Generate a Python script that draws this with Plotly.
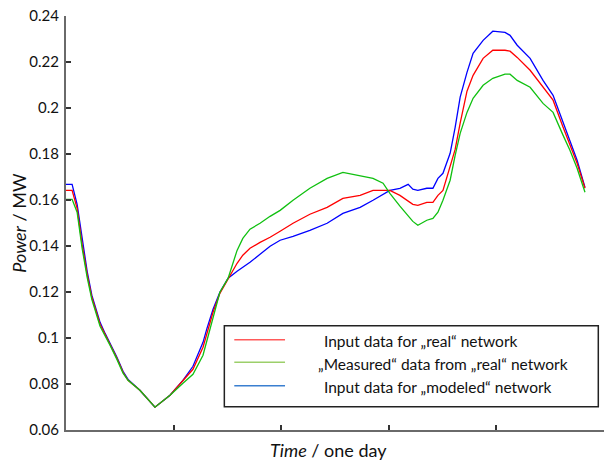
import plotly.graph_objects as go

# Time of day in minutes
time_min = [0, 17, 31, 45, 59, 72, 95, 109, 123, 142, 159, 173, 206, 248, 290, 326, 354, 382,
            393, 410, 429, 452, 477, 493, 513, 541, 569, 597, 633, 680, 728, 772, 820, 856,
            884, 903, 931, 954, 967, 981, 1006, 1023, 1037, 1051, 1071, 1085, 1099, 1118,
            1135, 1163, 1190, 1224, 1238, 1258, 1294, 1330, 1358, 1386, 1405, 1425, 1447]

real_input = [0.1642, 0.1642, 0.1564, 0.1407, 0.1277, 0.1177, 0.1060, 0.1016, 0.0973, 0.0912,
              0.0851, 0.0816, 0.0773, 0.0699, 0.0751, 0.0812, 0.0864, 0.0960, 0.1020, 0.1112,
              0.1194, 0.1260, 0.1325, 0.1360, 0.1390, 0.1416, 0.1438, 0.1464, 0.1499, 0.1538,
              0.1568, 0.1607, 0.1620, 0.1642, 0.1642, 0.1642, 0.1620, 0.1594, 0.1581, 0.1577,
              0.1590, 0.1590, 0.1620, 0.1642, 0.1742, 0.1820, 0.1934, 0.2073, 0.2142, 0.2216,
              0.2251, 0.2251, 0.2247, 0.2220, 0.2164, 0.2090, 0.2034, 0.1916, 0.1838, 0.1760,
              0.1651]

measured = [0.1603, 0.1603, 0.1547, 0.1390, 0.1264, 0.1168, 0.1051, 0.1012, 0.0968, 0.0907,
            0.0847, 0.0816, 0.0773, 0.0699, 0.0751, 0.0803, 0.0842, 0.0925, 0.0990, 0.1094,
            0.1199, 0.1260, 0.1381, 0.1433, 0.1473, 0.1499, 0.1529, 0.1555, 0.1599, 0.1651,
            0.1694, 0.1720, 0.1707, 0.1694, 0.1673, 0.1629, 0.1573, 0.1529, 0.1507, 0.1490,
            0.1512, 0.1520, 0.1547, 0.1599, 0.1686, 0.1794, 0.1890, 0.1981, 0.2042, 0.2099,
            0.2129, 0.2147, 0.2147, 0.2120, 0.2090, 0.2020, 0.1981, 0.1881, 0.1816, 0.1738,
            0.1634]

modeled_input = [0.1668, 0.1668, 0.1581, 0.1425, 0.1290, 0.1186, 0.1068, 0.1020, 0.0977, 0.0916,
                 0.0855, 0.0820, 0.0773, 0.0699, 0.0751, 0.0816, 0.0877, 0.0981, 0.1042, 0.1125,
                 0.1199, 0.1260, 0.1290, 0.1307, 0.1329, 0.1364, 0.1399, 0.1425, 0.1442, 0.1468,
                 0.1499, 0.1542, 0.1568, 0.1599, 0.1625, 0.1642, 0.1651, 0.1668, 0.1647, 0.1642,
                 0.1651, 0.1651, 0.1694, 0.1716, 0.1803, 0.1916, 0.2047, 0.2155, 0.2238, 0.2294,
                 0.2334, 0.2329, 0.2316, 0.2273, 0.2216, 0.2120, 0.2055, 0.1934, 0.1860, 0.1773,
                 0.1655]

x_ticks = [0, 300, 600, 900, 1200, 1500]
y_ticks = [0.06, 0.08, 0.10, 0.12, 0.14, 0.16, 0.18, 0.20, 0.22, 0.24]

series_names = ["Input data for „real“ network",
                "„Measured“ data from „real“ network",
                "Input data for „modeled“ network"]
line_colors = ["#ff0000", "#10c010", "#0000ff"]
legend_colors = ["#ff5a5a", "#9ccf6a", "#3a7fd0"]

FONT = "Lato"
fig = go.Figure()
order = [2, 0, 1]
all_series = [real_input, measured, modeled_input]
for i in order:
    fig.add_trace(go.Scatter(x=time_min, y=all_series[i], mode="lines", name=series_names[i],
                             line=dict(color=line_colors[i], width=1.3), showlegend=False))

axis_col = "#6a6a6a"
fig.update_layout(
    width=605, height=461,
    margin=dict(l=66, r=1, t=16, b=31),
    paper_bgcolor="white", plot_bgcolor="white",
    font=dict(family=FONT, size=15, color="#111"),
    xaxis=dict(range=[0, 1500], tickvals=x_ticks, showticklabels=False,
               ticks="inside", ticklen=5, tickwidth=1.5, tickcolor="#333",
               showline=True, linecolor=axis_col, linewidth=2, showgrid=False,
               zeroline=False),
    yaxis=dict(range=[0.06, 0.24], tickvals=y_ticks, ticks="inside", ticklen=5,
               tickwidth=1.5, tickcolor="#333", showline=True, linecolor=axis_col,
               linewidth=2, showgrid=False, zeroline=False, ticklabelstandoff=2,
               tickfont=dict(family=FONT, size=15, color="#111")),
    showlegend=False,
)

# axis titles
fig.add_annotation(text="<i>Time</i> / one day", xref="paper", yref="paper",
                   x=0.488, y=-0.048, xanchor="center", yanchor="middle",
                   showarrow=False, font=dict(family=FONT, size=18, color="#111"))
fig.add_annotation(text="<i>Power</i> / MW", xref="paper", yref="paper",
                   x=-0.088, y=0.5, xanchor="center", yanchor="middle", textangle=-90,
                   showarrow=False, font=dict(family=FONT, size=18, color="#111"))

# manual legend box
fig.add_shape(type="rect", xref="paper", yref="paper", x0=0.2943, x1=0.9894,
              y0=0.0563, y1=0.2519, line=dict(color="#222", width=1.5),
              fillcolor="white", layer="above")
leg_y = [0.2181, 0.1635, 0.1070]
text_x = [0.4758, 0.4647, 0.4758]
for name, col, yy, tx in zip(series_names, legend_colors, leg_y, text_x):
    fig.add_shape(type="line", xref="paper", yref="paper", x0=0.3128, x1=0.4071,
                  y0=yy, y1=yy, line=dict(color=col, width=1.5), layer="above")
    fig.add_annotation(text=name, xref="paper", yref="paper", x=tx, y=yy - 0.004,
                       xanchor="left", yanchor="middle", showarrow=False,
                       font=dict(family=FONT, size=15.5, color="#111"))

fig.write_html("out.html", config={"displayModeBar": False},
               post_script="document.body.style.margin='0';document.body.style.padding='0';"
                           "document.documentElement.style.overflow='hidden';")
